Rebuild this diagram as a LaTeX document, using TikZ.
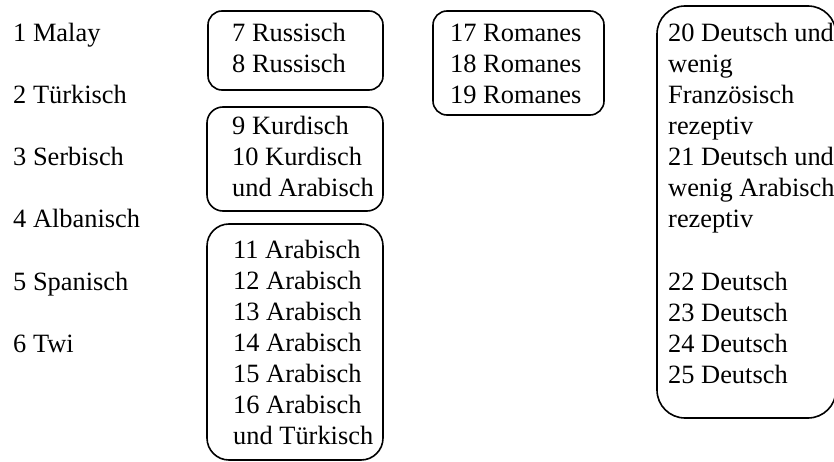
\documentclass[tikz,border=0pt]{standalone}
\usepackage{fontspec}
\setmainfont{Liberation Serif}
\begin{document}
\begin{tikzpicture}[x=1pt,y=-1pt,
  lbl/.style={anchor=base west, inner sep=0pt, font=\fontsize{26.4}{31}\selectfont},
  grp/.style={draw, line width=1.6pt}]
\useasboundingbox (0,0) rectangle (834,462);
\begin{scope}
\clip (0,0) rectangle (834,462);

% single languages, left column
\foreach \t [count=\i] in {1 Malay,2 Türkisch,3 Serbisch,4 Albanisch,5 Spanisch,6 Twi}
  \node[lbl] (s\i) at (13,{42+62*(\i-1)}) {\t};

% Russian group
\draw[grp, rounded corners=14pt] (208,11) rectangle (383,90);
\foreach \t [count=\i] in {7 Russisch,8 Russisch}
  \node[lbl] (ru\i) at (232,{42+31*(\i-1)}) {\t};

% Kurdish group
\draw[grp, rounded corners=16pt] (207,107) rectangle (383,211);
\foreach \t [count=\i] in {9 Kurdisch,10 Kurdisch,und Arabisch}
  \node[lbl] (ku\i) at (232,{135+31*(\i-1)}) {\t};

% Arabic group
\draw[grp, rounded corners=22pt] (207,224) rectangle (383,460);
\foreach \t [count=\i] in {11 Arabisch,12 Arabisch,13 Arabisch,14 Arabisch,15 Arabisch,16 Arabisch,und Türkisch}
  \node[lbl] (ar\i) at (233,{258+31*(\i-1)}) {\t};

% Romanes group
\draw[grp, rounded corners=14pt] (433,11) rectangle (604,115);
\foreach \t [count=\i] in {17 Romanes,18 Romanes,19 Romanes}
  \node[lbl] (ro\i) at (450,{42+31*(\i-1)}) {\t};

% German group
\draw[grp, rounded corners=28pt] (657,6) rectangle (836,418);
\foreach \t [count=\i] in {20 Deutsch und,wenig,Französisch,rezeptiv,21 Deutsch und,wenig Arabisch,rezeptiv}
  \node[lbl] (de\i) at (668,{42+31*(\i-1)}) {\t};
\foreach \t [count=\i] in {22 Deutsch,23 Deutsch,24 Deutsch,25 Deutsch}
  \node[lbl] (dd\i) at (668,{290+31*(\i-1)}) {\t};
\end{scope}
\end{tikzpicture}
\end{document}
